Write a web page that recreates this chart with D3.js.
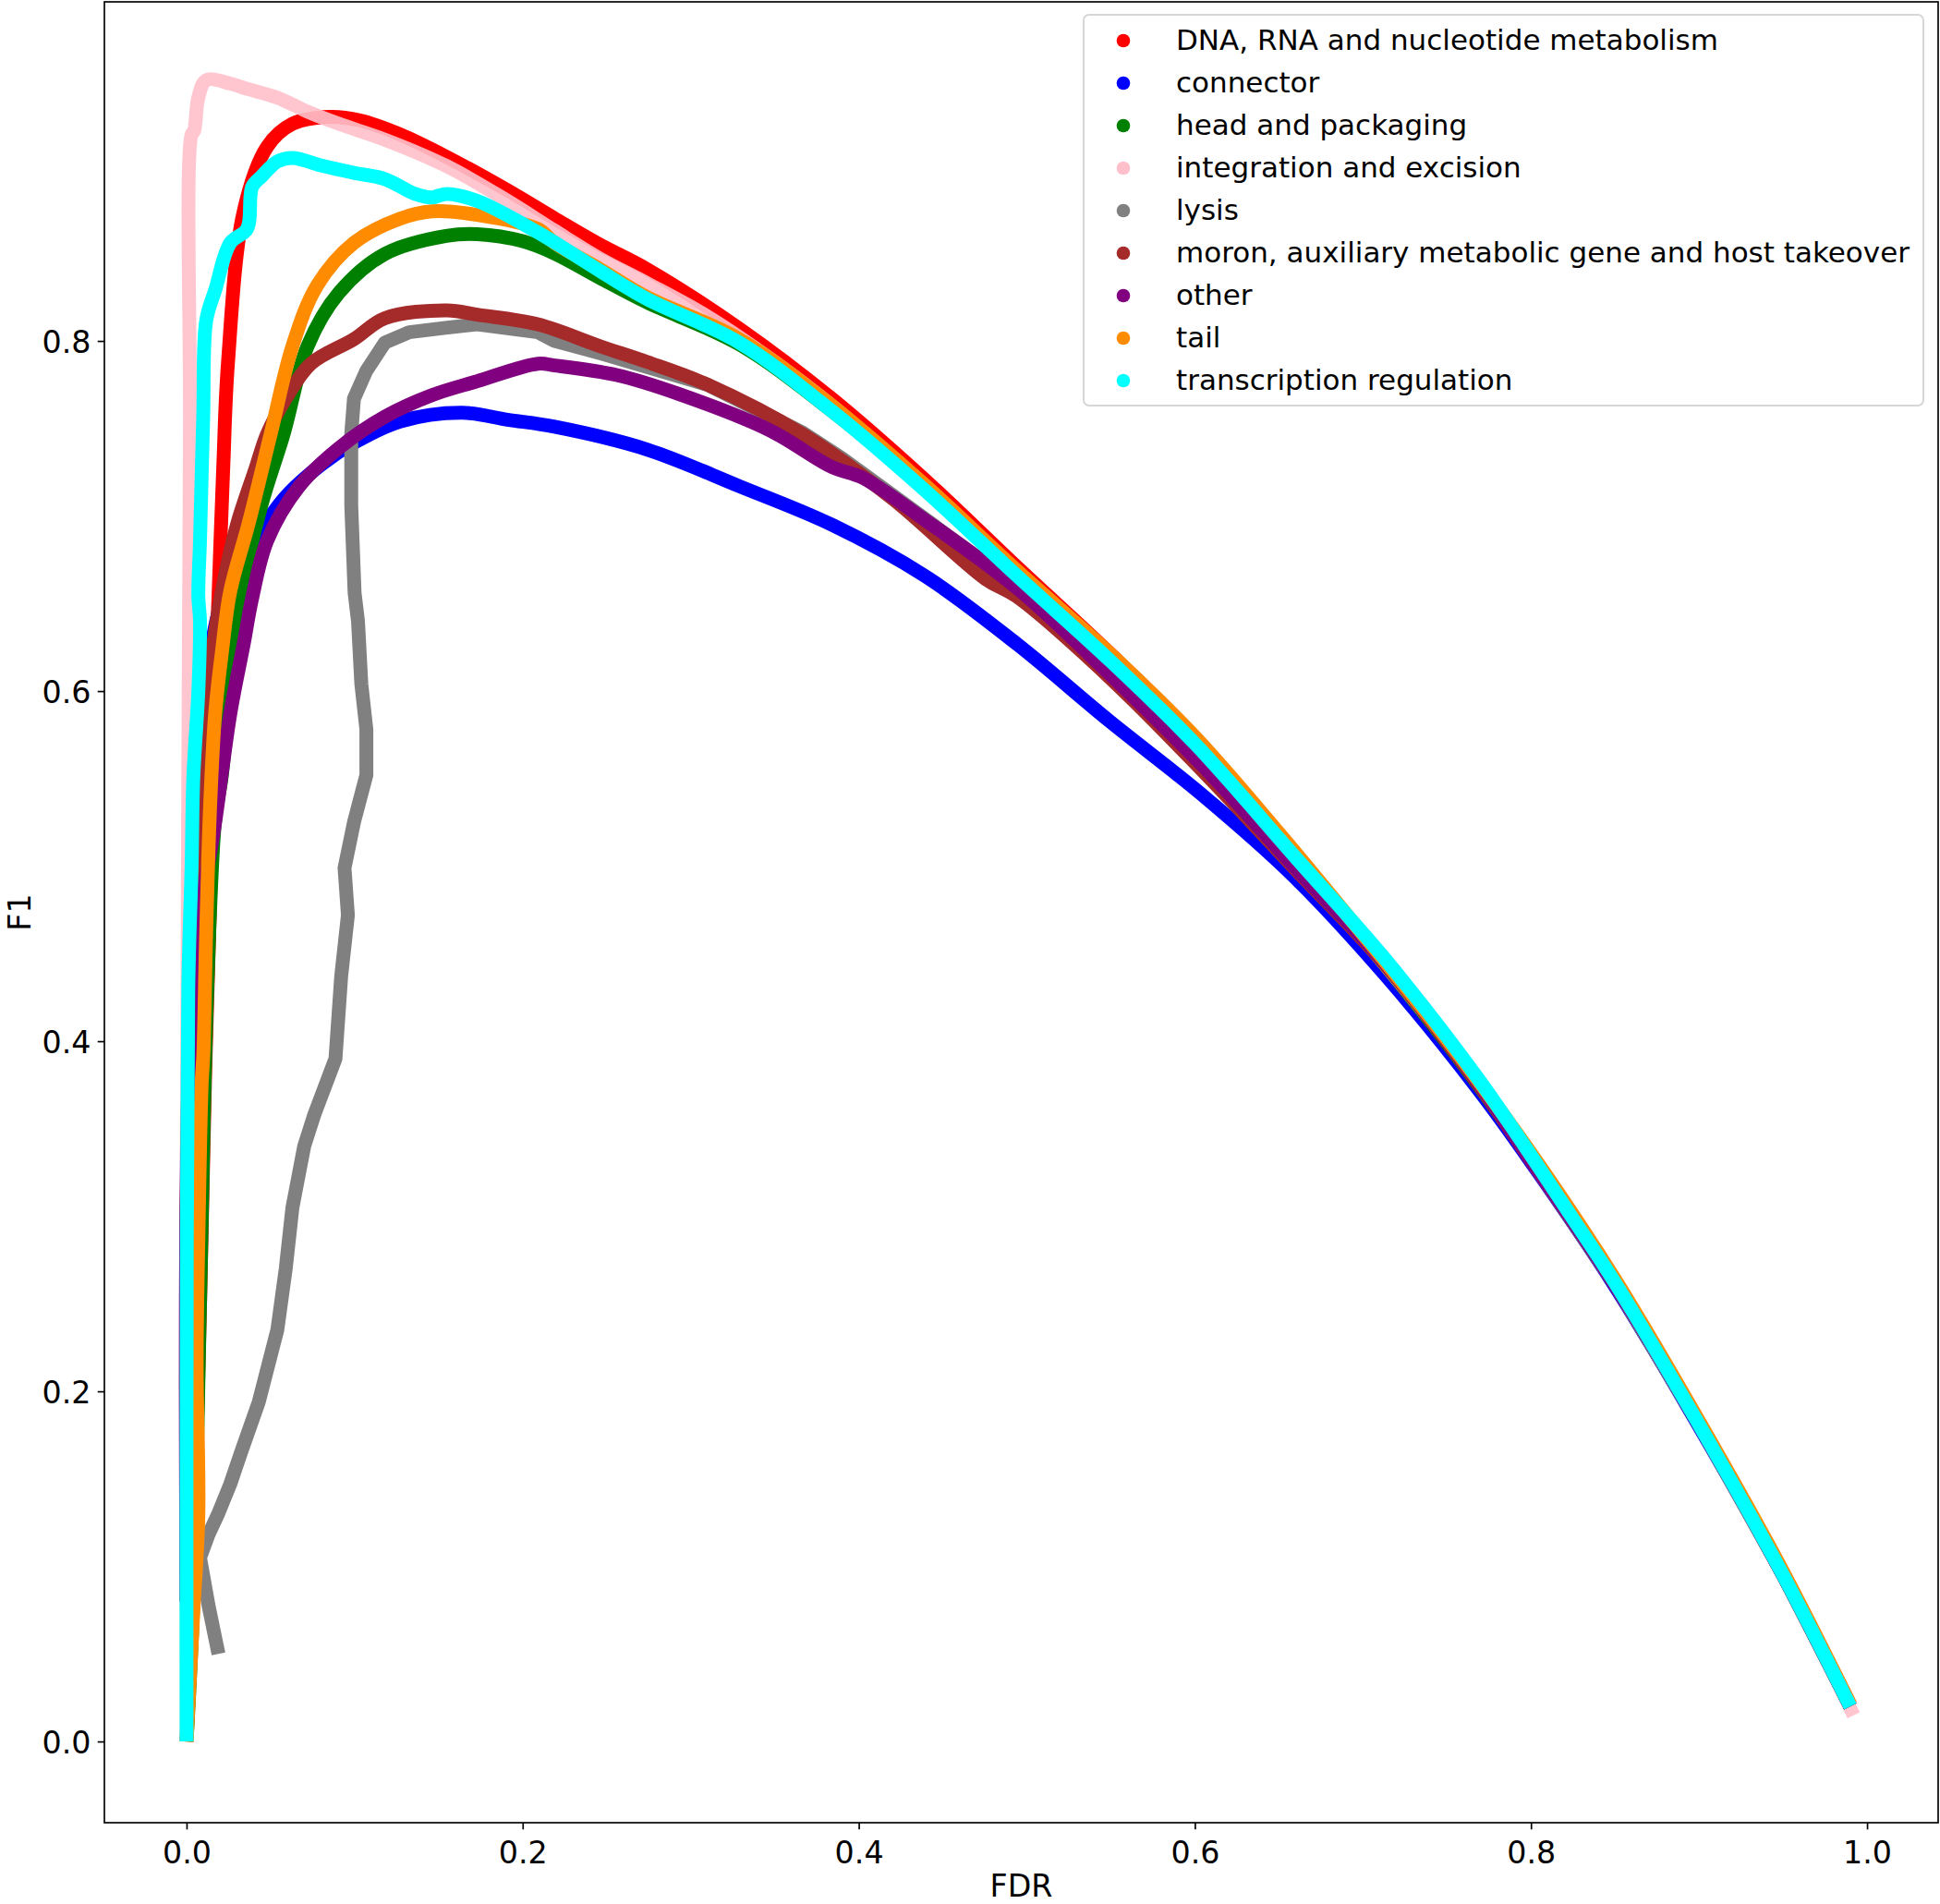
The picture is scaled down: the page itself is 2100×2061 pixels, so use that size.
<!DOCTYPE html>
<html>
<head>
<meta charset="utf-8">
<script src="https://cdn.jsdelivr.net/npm/d3@7"></script>
<style>
  html, body { margin: 0; padding: 0; background: #fff; }
  svg { display: block; }
  text { font-family: "DejaVu Sans", sans-serif; }
</style>
</head>
<body>
<svg id="chart" width="2100" height="2061"></svg>
<script>
// ---------- data (FDR, F1) ----------
const categories = [
  "DNA, RNA and nucleotide metabolism",
  "connector",
  "head and packaging",
  "integration and excision",
  "lysis",
  "moron, auxiliary metabolic gene and host takeover",
  "other",
  "tail",
  "transcription regulation"
];
const colors = ["#ff0000","#0000ff","#008000","#ffc0cb","#808080","#a52a2a","#800080","#ff8c00","#00ffff"];

const dnaRna = [[0.000,0.000],[0.003,0.070],[0.008,0.250],[0.011,0.380],[0.014,0.480],[0.017,0.600],[0.019,0.654],[0.0218,0.727],[0.0246,0.787],[0.034,0.874],[0.048,0.911],[0.063,0.924],[0.085,0.928],[0.103,0.926],[0.127,0.918],[0.155,0.905],[0.191,0.886],[0.219,0.870],[0.246,0.855],[0.274,0.841],[0.329,0.807],[0.384,0.767],[0.439,0.721],[0.494,0.671],[0.550,0.621],[0.600,0.573],[0.650,0.518],[0.700,0.460],[0.750,0.400],[0.800,0.334],[0.850,0.262],[0.900,0.182],[0.950,0.096],[0.990,0.021]];
const connector = [[0.000,0.080],[0.000,0.300],[0.002,0.450],[0.0055,0.520],[0.008,0.548],[0.011,0.587],[0.013,0.613],[0.020,0.648],[0.037,0.680],[0.058,0.710],[0.081,0.730],[0.100,0.742],[0.127,0.754],[0.164,0.759],[0.191,0.755],[0.219,0.751],[0.274,0.738],[0.329,0.717],[0.384,0.695],[0.439,0.666],[0.494,0.627],[0.549,0.583],[0.604,0.541],[0.659,0.494],[0.714,0.437],[0.769,0.372],[0.800,0.331],[0.850,0.260],[0.900,0.180],[0.950,0.095],[0.990,0.020]];
const headPackaging = [[0.000,0.000],[0.004,0.080],[0.008,0.250],[0.012,0.420],[0.017,0.527],[0.021,0.552],[0.026,0.604],[0.030,0.640],[0.032,0.654],[0.0446,0.7065],[0.0577,0.7466],[0.072,0.797],[0.0907,0.8275],[0.118,0.8497],[0.1545,0.860],[0.173,0.861],[0.200,0.857],[0.219,0.850],[0.246,0.836],[0.274,0.822],[0.329,0.798],[0.384,0.760],[0.439,0.716],[0.494,0.667],[0.550,0.618],[0.600,0.571],[0.650,0.516],[0.700,0.459],[0.750,0.399],[0.800,0.333],[0.850,0.262],[0.900,0.181],[0.950,0.095],[0.990,0.020]];
const integration = [[0.000,0.000],[0.000,0.300],[0.001,0.550],[0.002,0.750],[0.003,0.918],[0.0045,0.920],[0.007,0.939],[0.0117,0.949],[0.026,0.947],[0.036,0.944],[0.054,0.939],[0.072,0.931],[0.0907,0.924],[0.118,0.915],[0.1545,0.900],[0.191,0.880],[0.219,0.863],[0.246,0.847],[0.274,0.833],[0.310,0.814],[0.350,0.788],[0.384,0.763],[0.439,0.717],[0.494,0.668],[0.550,0.619],[0.600,0.572],[0.650,0.517],[0.700,0.459],[0.750,0.400],[0.800,0.334],[0.850,0.262],[0.900,0.182],[0.950,0.096],[0.992,0.015]];
const lysis = [[0.019,0.050],[0.013,0.078],[0.008,0.105],[0.013,0.118],[0.019,0.1305],[0.026,0.147],[0.032,0.164],[0.043,0.194],[0.054,0.235],[0.059,0.270],[0.063,0.305],[0.070,0.340],[0.076,0.358],[0.0886,0.390],[0.092,0.437],[0.096,0.472],[0.094,0.499],[0.0996,0.525],[0.107,0.552],[0.107,0.578],[0.104,0.604],[0.102,0.640],[0.100,0.656],[0.098,0.706],[0.098,0.747],[0.0996,0.767],[0.107,0.783],[0.118,0.799],[0.1325,0.805],[0.154,0.8075],[0.173,0.8095],[0.209,0.805],[0.219,0.800],[0.246,0.793],[0.310,0.775],[0.366,0.748],[0.390,0.733],[0.420,0.712],[0.4755,0.673],[0.550,0.612],[0.600,0.565],[0.659,0.502],[0.714,0.445],[0.769,0.377],[0.800,0.332],[0.850,0.261],[0.900,0.181],[0.950,0.095],[0.990,0.020]];
const moron = [[0.000,0.080],[0.000,0.300],[0.003,0.450],[0.006,0.499],[0.010,0.560],[0.015,0.620],[0.021,0.657],[0.030,0.695],[0.041,0.727],[0.048,0.747],[0.059,0.767],[0.074,0.787],[0.0996,0.801],[0.118,0.813],[0.155,0.8175],[0.173,0.815],[0.209,0.8095],[0.246,0.797],[0.274,0.788],[0.310,0.775],[0.366,0.747],[0.420,0.710],[0.4755,0.664],[0.494,0.654],[0.549,0.608],[0.604,0.555],[0.659,0.499],[0.714,0.443],[0.769,0.375],[0.800,0.332],[0.850,0.261],[0.900,0.181],[0.950,0.095],[0.990,0.020]];
const other = [[0.000,0.080],[0.000,0.300],[0.003,0.400],[0.008,0.470],[0.017,0.525],[0.026,0.587],[0.034,0.627],[0.039,0.653],[0.048,0.686],[0.0666,0.7165],[0.0905,0.7387],[0.118,0.7567],[0.146,0.769],[0.173,0.777],[0.209,0.787],[0.219,0.786],[0.256,0.7805],[0.292,0.770],[0.347,0.749],[0.384,0.728],[0.402,0.722],[0.439,0.698],[0.494,0.659],[0.549,0.610],[0.604,0.558],[0.659,0.500],[0.714,0.444],[0.769,0.376],[0.800,0.332],[0.850,0.261],[0.900,0.181],[0.950,0.095],[0.990,0.020]];
const tail = [[0.000,0.000],[0.004,0.074],[0.007,0.129],[0.006,0.217],[0.007,0.287],[0.009,0.376],[0.010,0.393],[0.0117,0.4635],[0.014,0.534],[0.017,0.587],[0.021,0.622],[0.026,0.657],[0.037,0.696],[0.050,0.7466],[0.063,0.797],[0.0777,0.8317],[0.0996,0.856],[0.127,0.8698],[0.146,0.874],[0.173,0.872],[0.209,0.864],[0.219,0.856],[0.246,0.841],[0.274,0.825],[0.329,0.801],[0.384,0.763],[0.439,0.718],[0.494,0.669],[0.550,0.621],[0.600,0.574],[0.650,0.519],[0.700,0.461],[0.750,0.401],[0.800,0.336],[0.850,0.264],[0.900,0.183],[0.950,0.097],[0.990,0.021]];
const transcription = [[0.000,0.000],[0.000,0.200],[0.001,0.430],[0.003,0.500],[0.004,0.550],[0.007,0.600],[0.008,0.640],[0.007,0.654],[0.008,0.686],[0.0099,0.7567],[0.0117,0.8117],[0.0172,0.8296],[0.026,0.856],[0.036,0.864],[0.039,0.888],[0.0446,0.894],[0.054,0.9025],[0.063,0.9045],[0.081,0.900],[0.0996,0.896],[0.118,0.8925],[0.136,0.884],[0.146,0.882],[0.1545,0.884],[0.173,0.880],[0.209,0.862],[0.246,0.840],[0.274,0.824],[0.329,0.799],[0.384,0.760],[0.439,0.715],[0.494,0.666],[0.550,0.617],[0.600,0.570],[0.659,0.506],[0.714,0.446],[0.769,0.378],[0.824,0.300],[0.850,0.262],[0.900,0.181],[0.950,0.095],[0.990,0.020]];

const seriesValues = [dnaRna, connector, headPackaging, integration, lysis, moron, other, tail, transcription];

const xTicks = [0.0, 0.2, 0.4, 0.6, 0.8, 1.0];
const yTicks = [0.0, 0.2, 0.4, 0.6, 0.8];
const xLabel = "FDR";
const yLabel = "F1";

// ---------- layout ----------
const L = 113, R = 2098, T = 2, B = 1973;
const svg = d3.select("#chart");

const x = d3.scaleLinear().domain([-0.0489, 1.0423]).range([L, R]);
const y = d3.scaleLinear().domain([-0.0464, 0.9937]).range([B, T]);

svg.append("defs").append("clipPath").attr("id", "clip")
  .append("rect").attr("x", L).attr("y", T).attr("width", R - L).attr("height", B - T);

const line = d3.line().x(d => x(d[0])).y(d => y(d[1])).curve(d3.curveCatmullRom.alpha(0.5));
const lineLin = d3.line().x(d => x(d[0])).y(d => y(d[1]));

const g = svg.append("g").attr("clip-path", "url(#clip)");
seriesValues.forEach((vals, i) => {
  g.append("path")
    .attr("d", (i === 4 ? lineLin : line)(vals))
    .attr("fill", "none")
    .attr("stroke", colors[i])
    .attr("stroke-width", 15)
    .attr("stroke-linejoin", "round")
    .attr("stroke-linecap", "butt")
    .attr("opacity", i === 3 ? 0.9 : 1);
});

// ---------- axes ----------
const fs = 33.3;
const xAxis = svg.append("g").attr("transform", `translate(0,${B})`)
  .call(d3.axisBottom(x).tickValues(xTicks).tickFormat(d3.format(".1f")).tickSize(7.3).tickPadding(13));
const yAxis = svg.append("g").attr("transform", `translate(${L},0)`)
  .call(d3.axisLeft(y).tickValues(yTicks).tickFormat(d3.format(".1f")).tickSize(7.3).tickPadding(7.3));
[xAxis, yAxis].forEach(a => {
  a.select(".domain").remove();
  a.selectAll(".tick line").attr("stroke", "#000").attr("stroke-width", 1.67);
  a.selectAll(".tick text").attr("font-size", fs).attr("fill", "#000")
    .attr("font-family", "DejaVu Sans");
});
yAxis.selectAll(".tick text").attr("dy", "0.37em");

// spines
svg.append("rect").attr("x", L).attr("y", T).attr("width", R - L).attr("height", B - T)
  .attr("fill", "none").attr("stroke", "#000").attr("stroke-width", 1.67);

// axis labels
svg.append("text").attr("x", (L + R) / 2).attr("y", 2053).attr("text-anchor", "middle")
  .attr("font-size", fs).text(xLabel);
svg.append("text").attr("transform", `translate(33,${(T + B) / 2}) rotate(-90)`)
  .attr("text-anchor", "middle").attr("font-size", fs).text(yLabel);

// ---------- legend ----------
const lg = svg.append("g");
lg.append("rect").attr("x", 1173).attr("y", 16).attr("width", 909).attr("height", 423)
  .attr("rx", 6).attr("fill", "#fff").attr("fill-opacity", 0.8)
  .attr("stroke", "#d6d6d6").attr("stroke-width", 2);
categories.forEach((c, i) => {
  const cy = 44 + i * 46;
  lg.append("circle").attr("cx", 1216).attr("cy", cy).attr("r", 7.3).attr("fill", colors[i]);
  lg.append("text").attr("x", 1273).attr("y", cy + 10).attr("font-size", 31).attr("fill", "#000").text(c);
});
</script>
</body>
</html>
